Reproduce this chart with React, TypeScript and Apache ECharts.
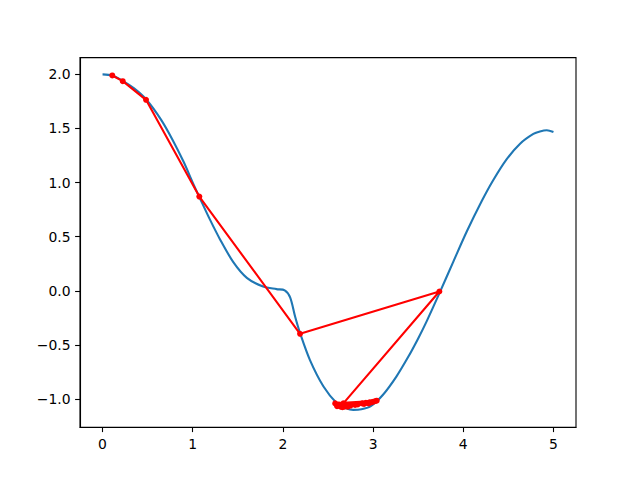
import React, { useEffect, useRef } from "react";
import * as echarts from "echarts";

const curveX = [0, 0.108, 0.224, 0.35, 0.482, 0.65, 0.78, 0.9, 1.0, 1.08, 1.19, 1.3, 1.45, 1.6, 1.78, 1.93, 2.02, 2.08, 2.135, 2.19, 2.3, 2.45, 2.6, 2.7, 2.78, 2.87, 2.97, 3.11, 3.26, 3.39, 3.5, 3.595, 3.742, 3.89, 4.04, 4.205, 4.33, 4.48, 4.63, 4.777, 4.85, 4.926, 5.0];
const curveY = [2.0, 1.99, 1.94, 1.87, 1.77, 1.58, 1.39, 1.19, 1.0, 0.855, 0.66, 0.48, 0.265, 0.12, 0.04, 0.016, 0.005, -0.06, -0.237, -0.39, -0.64, -0.884, -1.04, -1.085, -1.1, -1.095, -1.068, -0.96, -0.79, -0.61, -0.44, -0.28, -0.01, 0.27, 0.55, 0.83, 1.02, 1.215, 1.36, 1.45, 1.473, 1.484, 1.467];

const pathX = [0.108, 0.224, 0.482, 1.073, 2.19, 3.735, 2.67, 2.96, 2.62, 3.02, 2.6, 2.98, 2.64, 2.92, 2.7, 2.88, 2.75, 3.04, 2.58, 2.83, 2.68, 3.0, 2.62, 2.9, 2.66, 2.8, 2.72, 2.95];
const pathY = [1.99, 1.937, 1.765, 0.871, -0.397, -0.006, -1.04, -1.03, -1.05, -1.02, -1.065, -1.03, -1.07, -1.035, -1.065, -1.04, -1.06, -1.015, -1.04, -1.05, -1.07, -1.025, -1.06, -1.045, -1.075, -1.055, -1.07, -1.04];

const xTicks = [0, 1, 2, 3, 4, 5];
const yTicks = [-1.0, -0.5, 0.0, 0.5, 1.0, 1.5, 2.0];

export default function App() {
  const ref = useRef<HTMLDivElement>(null);
  useEffect(() => {
    if (!ref.current) return;
    const chart = echarts.init(ref.current, null, { renderer: "svg" });
    const font = { fontFamily: "DejaVu Sans", fontSize: 13.9, color: "#000" };
    chart.setOption({
      animation: false,
      backgroundColor: "#fff",
      grid: {
        left: 80,
        right: 64,
        top: 57.6,
        bottom: 52.8,
        show: true,
        borderColor: "#000",
        borderWidth: 1.1,
        backgroundColor: "transparent",
        containLabel: false,
        outerBoundsMode: "none",
      },
      xAxis: {
        type: "value",
        min: -0.25,
        max: 5.25,
        splitLine: { show: false },
        axisLine: { show: true, onZero: false, lineStyle: { color: "#000", width: 1.1 } },
        axisTick: { show: true, length: 4.9, customValues: xTicks, lineStyle: { color: "#000", width: 1.1 } },
        axisLabel: {
          ...font,
          margin: 9.5,
          customValues: xTicks,
          formatter: (v: number) => String(v),
        },
      },
      yAxis: {
        type: "value",
        min: -1.26,
        max: 2.155,
        splitLine: { show: false },
        axisLine: { show: true, onZero: false, lineStyle: { color: "#000", width: 1.1 } },
        axisTick: { show: true, length: 4.9, customValues: yTicks, lineStyle: { color: "#000", width: 1.1 } },
        axisLabel: {
          ...font,
          margin: 9.5,
          customValues: yTicks,
          formatter: (v: number) => (v < 0 ? "\u2212" + Math.abs(v).toFixed(1) : v.toFixed(1)),
        },
      },
      series: [
        {
          type: "line",
          data: curveX.map((x, i) => [x, curveY[i]]),
          showSymbol: false,
          smooth: 0.3,
          lineStyle: { color: "#1f77b4", width: 2.1 },
          itemStyle: { color: "#1f77b4" },
          z: 2,
        },
        {
          type: "line",
          data: pathX.map((x, i) => [x, pathY[i]]),
          symbol: "circle",
          symbolSize: 6,
          showSymbol: true,
          lineStyle: { color: "#ff0000", width: 2.1 },
          itemStyle: { color: "#ff0000" },
          z: 3,
        },
      ],
    });
    return () => chart.dispose();
  }, []);
  return <div ref={ref} style={{ width: 640, height: 480, margin: -8 }} />;
}
